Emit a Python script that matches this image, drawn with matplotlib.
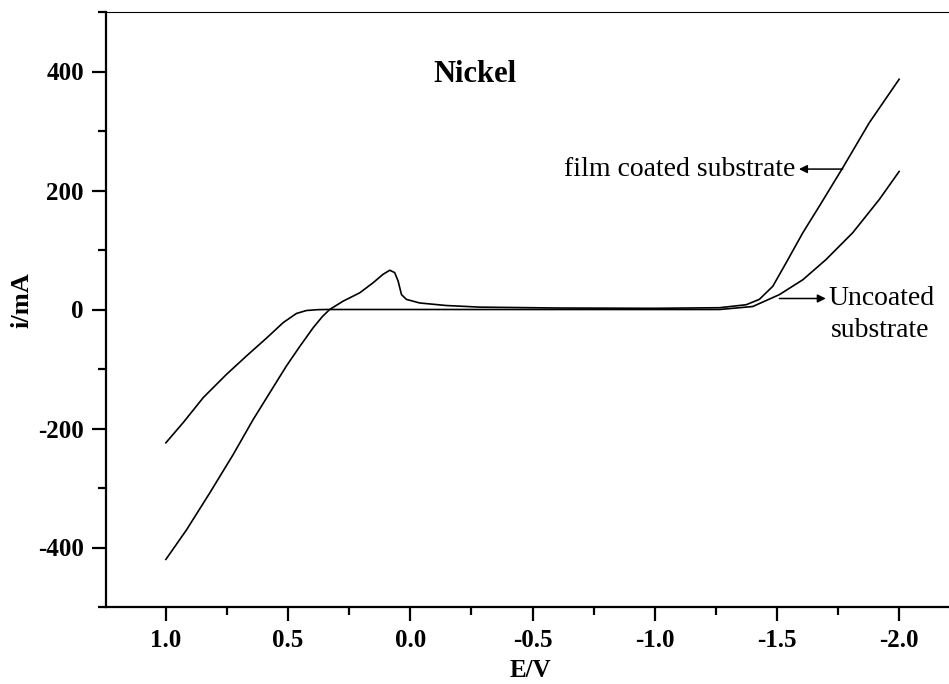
import numpy as np
import matplotlib
matplotlib.use("Agg")
import matplotlib.pyplot as plt
from matplotlib.ticker import MultipleLocator, FormatStrFormatter

plt.rcParams['font.family'] = ['Liberation Serif', 'DejaVu Serif']
plt.rcParams['axes.unicode_minus'] = False

# film coated substrate (with anodic peak near 0.1 V)
coated_E = [1.0, 0.915, 0.820, 0.725, 0.643, 0.575, 0.507, 0.452, 0.398, 0.36,
            0.33, 0.275, 0.207, 0.152, 0.112, 0.084, 0.064, 0.050, 0.036, 0.016,
            -0.038, -0.147, -0.284, -0.6, -1.0, -1.265, -1.374, -1.428, -1.483,
            -1.537, -1.606, -1.674, -1.769, -1.878, -2.0]
coated_i = [-420, -370, -308, -244, -185, -140, -95, -62, -31, -12,
            0, 14, 28, 45, 59, 66, 62, 48, 25, 17,
            11, 6.7, 4, 2.5, 2, 3, 8, 17, 39,
            78, 129, 174, 238, 314, 387]

# uncoated substrate
bare_E = [1.0, 0.929, 0.847, 0.752, 0.670, 0.588, 0.520, 0.466, 0.425, 0.38,
          0.343, 0.2, -0.5, -1.0, -1.265, -1.401, -1.51, -1.606, -1.701,
          -1.81, -1.919, -2.0]
bare_i = [-224, -190, -148, -109, -78, -48, -22, -6.7, -1.7, -0.3,
          0, 0, 0, 0, 0, 5, 25, 50, 84,
          129, 185, 232]

fig = plt.figure(figsize=(9.49, 6.84), dpi=100)
ax = fig.add_axes([106 / 949, 1 - 607 / 684, 1 - 106 / 949, (607 - 12) / 684])

ax.plot(coated_E, coated_i, color='black', lw=1.2, solid_joinstyle='round')
ax.plot(bare_E, bare_i, color='black', lw=1.2, solid_joinstyle='round')

ax.set_xlim(1.245, -2.204)
ax.set_ylim(-500, 500)

ax.xaxis.set_major_locator(MultipleLocator(0.5))
ax.xaxis.set_minor_locator(MultipleLocator(0.25))
ax.xaxis.set_major_formatter(FormatStrFormatter('%.1f'))
ax.set_yticks([-400, -200, 0, 200, 400])
ax.set_yticks([-500, -300, -100, 100, 300, 500], minor=True)

ax.spines['right'].set_visible(False)
ax.spines['top'].set_linewidth(0.8)
ax.spines['left'].set_linewidth(1.6)
ax.spines['bottom'].set_linewidth(1.6)
ax.tick_params(which='major', direction='out', length=10, width=1.6, pad=6,
               labelsize=18)
ax.tick_params(which='minor', direction='out', length=6, width=1.6)
for lab in ax.get_xticklabels() + ax.get_yticklabels():
    lab.set_fontweight('bold')

ax.set_xlabel('E/V', fontsize=18, fontweight='bold')
ax.set_ylabel('i/mA', fontsize=19, fontweight='bold')
ax.xaxis.set_label_coords((530 - 106) / 843, (607 - 659) / 595)
ax.yaxis.set_label_coords((33 - 106) / 843, (607 - 300) / 595)

ax.text(-0.263, 395, 'Nickel', fontsize=22, fontweight='bold', ha='center', va='center')

ax.annotate('', xy=(-1.59, 236), xytext=(-1.769, 236),
            arrowprops=dict(arrowstyle='-|>', color='black', lw=1.1,
                            mutation_scale=12, shrinkA=0, shrinkB=0))
ax.text(-1.576, 236, 'film coated substrate', fontsize=20, ha='right', va='center')

ax.annotate('', xy=(-1.70, 18.5), xytext=(-1.51, 18.5),
            arrowprops=dict(arrowstyle='-|>', color='black', lw=1.1,
                            mutation_scale=12, shrinkA=0, shrinkB=0))
ax.text(-1.711, 18.5, 'Uncoated', fontsize=20, ha='left', va='center')
ax.text(-1.923, -36, 'substrate', fontsize=20, ha='center', va='center')

fig.savefig('out.png', dpi=100)
